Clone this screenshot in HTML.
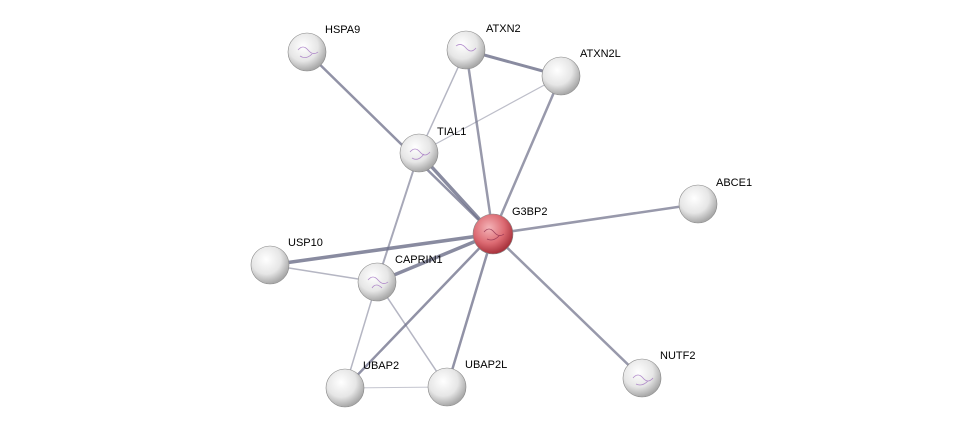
<!DOCTYPE html>
<html><head><meta charset="utf-8"><style>
html,body{margin:0;padding:0;background:#fff;}
svg text{font-family:"Liberation Sans",sans-serif;font-size:11px;fill:#000;}
</style></head><body>
<svg width="976" height="433" viewBox="0 0 976 433" xmlns="http://www.w3.org/2000/svg">
<defs>
<radialGradient id="g" cx="40%" cy="35%" r="65%">
<stop offset="0" stop-color="#ffffff"/><stop offset="0.6" stop-color="#e6e6e6"/><stop offset="1" stop-color="#a8a8a8"/>
</radialGradient>
<radialGradient id="r" cx="40%" cy="35%" r="65%">
<stop offset="0" stop-color="#f4b4b8"/><stop offset="0.6" stop-color="#dc6a72"/><stop offset="1" stop-color="#a8323c"/>
</radialGradient>
</defs>
<g stroke="#6c6e88" stroke-linecap="round" fill="none">
<line x1="307" y1="52" x2="493" y2="234" stroke-width="2.5" stroke-opacity="0.75"/>
<line x1="466" y1="50" x2="561" y2="76" stroke-width="3" stroke-opacity="0.8"/>
<line x1="466" y1="50" x2="419" y2="153" stroke-width="1.5" stroke-opacity="0.5"/>
<line x1="466" y1="50" x2="493" y2="234" stroke-width="2.5" stroke-opacity="0.7"/>
<line x1="561" y1="76" x2="419" y2="153" stroke-width="1.2" stroke-opacity="0.45"/>
<line x1="561" y1="76" x2="493" y2="234" stroke-width="2.5" stroke-opacity="0.7"/>
<line x1="419" y1="153" x2="493" y2="234" stroke-width="3.5" stroke-opacity="0.8"/>
<line x1="419" y1="153" x2="377" y2="282" stroke-width="2" stroke-opacity="0.6"/>
<line x1="493" y1="234" x2="698" y2="204" stroke-width="2.5" stroke-opacity="0.7"/>
<line x1="493" y1="234" x2="270" y2="265" stroke-width="3.5" stroke-opacity="0.8"/>
<line x1="493" y1="234" x2="377" y2="282" stroke-width="3.5" stroke-opacity="0.8"/>
<line x1="493" y1="234" x2="345" y2="388" stroke-width="2.5" stroke-opacity="0.75"/>
<line x1="493" y1="234" x2="447" y2="387" stroke-width="2.5" stroke-opacity="0.75"/>
<line x1="493" y1="234" x2="642" y2="378" stroke-width="2.5" stroke-opacity="0.7"/>
<line x1="270" y1="265" x2="377" y2="282" stroke-width="1.5" stroke-opacity="0.5"/>
<line x1="377" y1="282" x2="345" y2="388" stroke-width="1.5" stroke-opacity="0.5"/>
<line x1="377" y1="282" x2="447" y2="387" stroke-width="1.5" stroke-opacity="0.5"/>
<line x1="345" y1="388" x2="447" y2="387" stroke-width="1" stroke-opacity="0.4"/>
</g>
<g stroke="#888" stroke-width="0.6">
<circle cx="307" cy="52" r="19" fill="url(#g)"/>
<circle cx="466" cy="50" r="19" fill="url(#g)"/>
<circle cx="561" cy="76" r="19" fill="url(#g)"/>
<circle cx="419" cy="153" r="19" fill="url(#g)"/>
<circle cx="698" cy="204" r="19" fill="url(#g)"/>
<circle cx="493" cy="234" r="20" fill="url(#r)"/>
<circle cx="270" cy="265" r="19" fill="url(#g)"/>
<circle cx="377" cy="282" r="19" fill="url(#g)"/>
<circle cx="345" cy="388" r="19" fill="url(#g)"/>
<circle cx="447" cy="387" r="19" fill="url(#g)"/>
<circle cx="642" cy="378" r="19" fill="url(#g)"/>
</g>
<g stroke="#a070c0" stroke-width="0.8" fill="none" opacity="0.8">
<path d="M298 50 q5 -6 10 0 t10 2 M300 56 q6 4 12 -2"/>
<path d="M456 46 q5 -4 10 2 t10 0"/>
<path d="M410 152 q5 -6 10 0 t10 0 M412 158 q6 4 12 -4"/>
<path d="M368 280 q5 -6 10 0 t10 2 M372 288 q4 -6 10 0"/>
<path d="M633 378 q5 -6 10 0 t10 0 M636 384 q6 3 12 -3"/>
<path d="M484 232 q5 -6 10 0 t10 2 M487 239 q6 3 12 -3" stroke="#903050"/>
</g>
<text x="325" y="33">HSPA9</text>
<text x="486" y="32">ATXN2</text>
<text x="580" y="57">ATXN2L</text>
<text x="437" y="135">TIAL1</text>
<text x="716" y="186">ABCE1</text>
<text x="512" y="215">G3BP2</text>
<text x="288" y="246">USP10</text>
<text x="395" y="263">CAPRIN1</text>
<text x="363" y="369">UBAP2</text>
<text x="465" y="368">UBAP2L</text>
<text x="660" y="359">NUTF2</text>
</svg>
</body></html>
